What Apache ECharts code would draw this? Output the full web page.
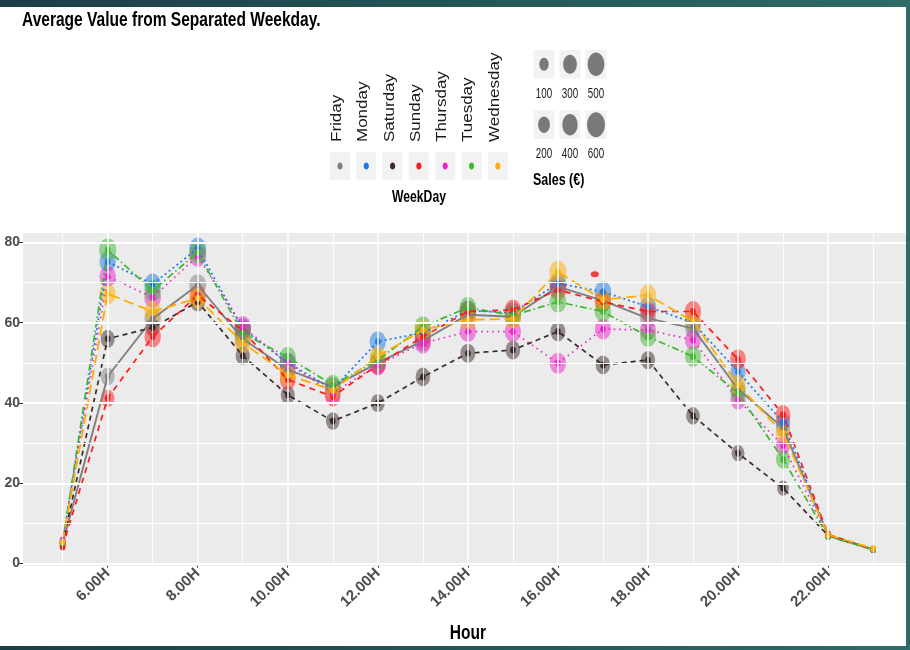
<!DOCTYPE html>
<html><head><meta charset="utf-8">
<script src="https://cdn.jsdelivr.net/npm/echarts@6/dist/echarts.min.js"></script>
<style>html,body{margin:0;padding:0;background:#fff}#c{width:910px;height:650px}</style>
</head><body><div id="c"></div><script>
// ---------- data ----------
const hours = [5,6,7,8,9,10,11,12,13,14,15,16,17,18,19,20,21,22,23];
const days = ['Friday','Monday','Saturday','Sunday','Thursday','Tuesday','Wednesday'];
const friday    = [5.0,46.6,61.0,69.4,56.0,48.3,44.0,50.0,55.5,62.0,61.5,69.0,65.5,61.1,58.6,43.5,33.8,7.0,3.5];
const monday    = [5.3,75.2,69.6,78.5,58.5,50.0,43.5,55.3,57.5,63.0,62.5,69.8,67.7,64.0,60.0,47.8,35.2,7.2,3.6];
const saturday  = [5.0,56.0,58.8,65.2,51.8,42.0,35.5,40.0,46.5,52.4,53.2,57.8,49.5,50.7,36.8,27.5,18.8,7.0,3.5];
const sunday    = [4.2,41.2,56.5,66.9,58.0,45.8,41.6,49.5,56.5,62.8,63.2,68.2,65.2,62.8,62.8,50.9,37.1,7.3,3.5];
const thursday  = [5.8,71.5,66.3,76.6,59.0,49.9,42.5,49.5,54.9,57.8,57.8,49.9,58.4,58.2,55.7,40.8,29.4,7.1,3.6];
const tuesday   = [5.2,78.2,68.0,77.5,57.4,51.4,44.5,50.7,59.0,63.8,61.8,65.2,62.8,56.5,51.6,42.5,26.0,6.8,3.5];
const wednesday = [5.4,67.2,62.8,66.1,55.0,47.0,43.2,51.6,58.2,60.7,61.0,72.7,65.7,66.9,60.3,44.5,32.5,7.2,3.7];

const fridaySales    = [12,260,380,420,380,370,350,370,380,390,380,410,380,370,350,300,260,16,9];
const mondaySales    = [12,380,400,430,390,380,360,380,370,390,380,410,400,380,360,320,280,16,9];
const saturdaySales  = [10,260,280,310,270,260,240,260,280,300,290,310,280,270,240,200,160,14,8];
const sundaySales    = [11,240,390,380,370,350,330,350,380,390,380,400,370,350,380,350,300,16,9];
const thursdaySales  = [12,390,410,420,410,370,350,370,380,390,380,390,380,370,360,320,270,16,9];
const tuesdaySales   = [12,450,410,430,390,380,360,370,390,410,390,410,380,370,360,320,270,16,9];
const wednesdaySales = [12,370,390,410,380,370,350,380,390,400,380,440,390,400,370,330,290,16,9];

const outlierPoint = [16.82, 72.1];
const xTicks = [6,8,10,12,14,16,18,20,22];
const xMinor = [5,7,9,11,13,15,17,19,21,23];
const yTicks = [0,20,40,60,80];
const yMinor = [10,30,50,70];
const sizeLegendRow1 = [100,300,500];
const sizeLegendRow2 = [200,400,600];

// ---------- styles ----------
const values = [friday,monday,saturday,sunday,thursday,tuesday,wednesday];
const sales = [fridaySales,mondaySales,saturdaySales,sundaySales,thursdaySales,tuesdaySales,wednesdaySales];
const colors = ['#7f7f7f','#1f78e6','#3b2a2a','#ff1a1a','#ee22cc','#3cb82e','#ffad00'];
const dashes = ['solid',[2,3],[5,4],[6,5],[1.5,4],[7,3,1.5,3],[10,5]];
const widths = [1.9,1.7,1.7,1.7,1.7,1.7,1.8];
const SANS = "'Liberation Sans',Arial,Helvetica,sans-serif";
function sizeOf(v){ const h = 4.7 + 0.83*Math.sqrt(v); return [h*0.78, h]; }

const series = [];
// grid lines
series.push({
  type:'line', data:[], z:1, silent:true,
  markLine:{silent:true, symbol:['none','none'], label:{show:false}, animation:false,
    emphasis:{disabled:true},
    data:[]
      .concat(yMinor.map(v=>({yAxis:v, lineStyle:{color:'#fff',width:1,type:'solid'}})))
      .concat(yTicks.map(v=>({yAxis:v, lineStyle:{color:'#fff',width:2,type:'solid'}})))
      .concat(xMinor.map(v=>({xAxis:v, lineStyle:{color:'#fff',width:0.8,type:'solid'}})))
      .concat(xTicks.map(v=>({xAxis:v, lineStyle:{color:'#fff',width:1.5,type:'solid'}})))
  }
});
days.forEach((d,i)=>{
  series.push({type:'scatter', name:d, z:2, silent:true,
    data: hours.map((h,j)=>[h, values[i][j], sales[i][j]]),
    symbol:'circle', symbolSize:(val)=>sizeOf(val[2]),
    itemStyle:{color:colors[i], opacity:0.5}});
});
days.forEach((d,i)=>{
  series.push({type:'line', name:d, z:3, silent:true,
    data: hours.map((h,j)=>[h, values[i][j]]),
    showSymbol:false, lineStyle:{color:colors[i], width:widths[i], type:dashes[i]}});
});
days.forEach((d,i)=>{
  series.push({type:'scatter', name:d, z:4, silent:true,
    data: hours.map((h,j)=>[h, values[i][j]]),
    symbol:'circle', symbolSize:[5.5,7], itemStyle:{color:colors[i], opacity:1}});
});
series.push({type:'scatter', z:4, silent:true, data:[outlierPoint], symbol:'circle',
  symbolSize:[8,6], itemStyle:{color:'#e8141a'}});

// ---------- legend / text graphics ----------
const graphic = [];
graphic.push({type:'text', x:22, y:20, scaleX:0.74,
  style:{text:'Average Value from Separated Weekday.', fontSize:21, fontWeight:'bold', fontFamily:SANS, fill:'#000', align:'left', verticalAlign:'middle'}});
days.forEach((d,i)=>{
  const cx = 340 + i*26.3;
  graphic.push({type:'rect', shape:{x:cx-10, y:152, width:20, height:28}, style:{fill:'#f2f2f2'}});
  graphic.push({type:'ellipse', shape:{cx:cx, cy:166, rx:2.6, ry:3.6}, style:{fill:colors[i]}});
  graphic.push({type:'text', x:cx-3, y:142, rotation:Math.PI/2, scaleY:0.85,
    style:{text:d, fontSize:17, fontFamily:SANS, fill:'#1a1a1a', align:'left', verticalAlign:'middle'}});
});
graphic.push({type:'text', x:419, y:198, scaleX:0.76, style:{text:'WeekDay', fontSize:16, fontWeight:'bold', fontFamily:SANS, fill:'#000', align:'center', verticalAlign:'middle'}});
[sizeLegendRow1, sizeLegendRow2].forEach((row,r)=>{
  const by = r===0 ? 50 : 110.5;
  row.forEach((v,k)=>{
    const cx = 544 + k*26;
    const s = sizeOf(v);
    graphic.push({type:'rect', shape:{x:cx-10.5, y:by, width:21, height:28.5}, style:{fill:'#f2f2f2'}});
    graphic.push({type:'ellipse', shape:{cx:cx, cy:by+14.25, rx:s[0]/2*0.92, ry:s[1]/2}, style:{fill:'#000', opacity:0.5}});
    graphic.push({type:'text', x:cx, y:by+44, scaleX:0.7, style:{text:String(v), fontSize:14, fontFamily:SANS, fill:'#1a1a1a', align:'center', verticalAlign:'middle'}});
  });
});
graphic.push({type:'text', x:533, y:181, scaleX:0.78, style:{text:'Sales (€)', fontSize:16, fontWeight:'bold', fontFamily:SANS, fill:'#000', align:'left', verticalAlign:'middle'}});
graphic.push({type:'text', x:468, y:633, scaleX:0.74, style:{text:'Hour', fontSize:21, fontWeight:'bold', fontFamily:SANS, fill:'#000', align:'center', verticalAlign:'middle'}});
// frame
const frameFill = new echarts.graphic.LinearGradient(0,0,1,0,[{offset:0,color:'#1b3e46'},{offset:1,color:'#2f6b68'}]);
graphic.push({type:'rect', z:100, shape:{x:0,y:0,width:910,height:7}, style:{fill:frameFill}});
graphic.push({type:'rect', z:100, shape:{x:906,y:0,width:4,height:650}, style:{fill:'#2f6b68'}});
graphic.push({type:'rect', z:100, shape:{x:0,y:646,width:910,height:4}, style:{fill:frameFill}});

const chart = echarts.init(document.getElementById('c'), null, {renderer:'canvas'});
chart.setOption({
  animation:false,
  backgroundColor:'#fff',
  grid:{left:23, right:0, top:233, bottom:84, show:true, backgroundColor:'#ebebeb', borderWidth:0, containLabel:false},
  xAxis:{type:'value', min:4.12, max:23.82,
    axisLine:{show:false}, splitLine:{show:false},
    axisTick:{show:true, customValues:xTicks, length:4, lineStyle:{color:'#333', width:1}},
    axisLabel:{customValues:xTicks, rotate:44, margin:5, fontSize:15, fontWeight:'bold', fontFamily:SANS, color:'#4d4d4d',
      formatter:(v)=>Number(v).toFixed(2)+'H'}},
  yAxis:{type:'value', min:-0.6, max:82.35,
    axisLine:{show:false}, splitLine:{show:false},
    axisTick:{show:true, customValues:yTicks, length:4, lineStyle:{color:'#333', width:1}},
    axisLabel:{customValues:yTicks, margin:3, fontSize:14, fontWeight:'bold', fontFamily:SANS, color:'#4d4d4d'}},
  series:series,
  graphic:graphic
});
</script></body></html>
